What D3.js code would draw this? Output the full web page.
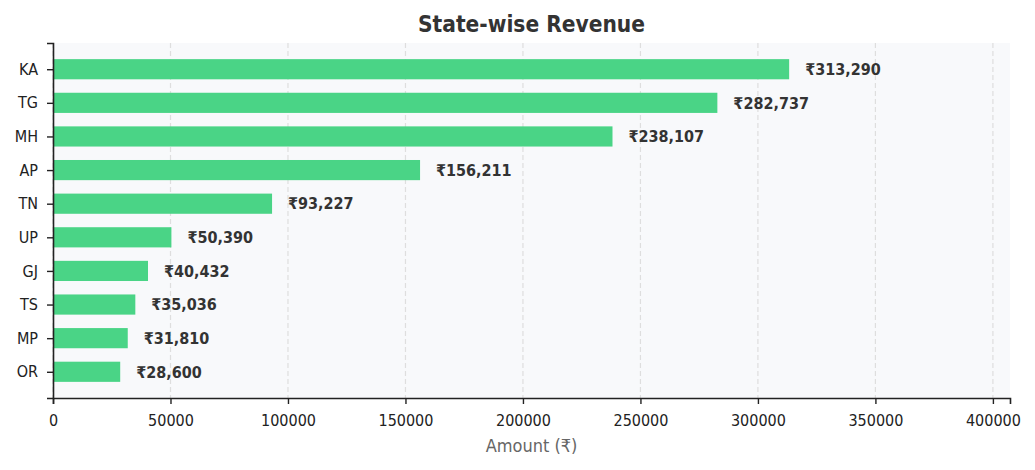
<!DOCTYPE html>
<html>
<head>
<meta charset="utf-8">
<script src="https://cdn.jsdelivr.net/npm/d3@7"></script>
<style>
  body { margin: 0; background: #fff; }
  svg text { font-family: "DejaVu Sans Condensed", "DejaVu Sans", sans-serif; font-stretch: condensed; }
</style>
</head>
<body>
<div id="chart"></div>
<script>
// Datos del gráfico
const states = ["KA", "TG", "MH", "AP", "TN", "UP", "GJ", "TS", "MP", "OR"];
const revenue = [313290, 282737, 238107, 156211, 93227, 50390, 40432, 35036, 31810, 28600];
const xTicks = [0, 50000, 100000, 150000, 200000, 250000, 300000, 350000, 400000];

const width = 1035, height = 470;
const margin = { top: 43, right: 25, bottom: 72, left: 53 };
const innerW = width - margin.left - margin.right;
const innerH = height - margin.top - margin.bottom;

const svg = d3.select("#chart").append("svg")
    .attr("width", width)
    .attr("height", height);

const g = svg.append("g").attr("transform", `translate(${margin.left},${margin.top})`);

const maxVal = d3.max(revenue);
const x = d3.scaleLinear().domain([0, maxVal * 1.3]).range([0, innerW]);
// eje y continuo, igual que barh con márgenes
const n = states.length;
const pad = 0.05 * (n - 1 + 0.6);
const y = d3.scaleLinear().domain([-0.3 - pad, n - 1 + 0.3 + pad]).range([0, innerH]);
const barH = y(0.6) - y(0);

// fondo del área
g.append("rect")
    .attr("width", innerW)
    .attr("height", innerH)
    .attr("fill", "#f8f9fb");

// grid vertical
g.selectAll(".grid").data(xTicks).enter().append("line")
    .attr("x1", d => x(d)).attr("x2", d => x(d))
    .attr("y1", 0).attr("y2", innerH)
    .attr("stroke", "#dedede")
    .attr("stroke-width", 1.2)
    .attr("stroke-dasharray", "5,3");

// barras
g.selectAll(".bar").data(states).enter().append("rect")
    .attr("x", 0)
    .attr("y", (d, i) => y(i) - barH / 2)
    .attr("width", (d, i) => x(revenue[i]))
    .attr("height", barH)
    .attr("fill", "#4ad486");

// etiquetas de valor
g.selectAll(".val").data(states).enter().append("text")
    .attr("x", (d, i) => x(revenue[i]) + 16)
    .attr("y", (d, i) => y(i))
    .attr("dy", "0.36em")
    .style("font-size", "16px")
    .style("font-weight", "bold")
    .style("fill", "#333")
    .text((d, i) => "₹" + d3.format(",")(revenue[i]));

// eje x
const xAxis = g.append("g")
    .attr("transform", `translate(0,${innerH})`)
    .call(d3.axisBottom(x).tickValues(xTicks).tickFormat(d3.format("d")).tickSize(6).tickPadding(11));
xAxis.select(".domain").attr("stroke", "#222").attr("stroke-width", 1.6);
xAxis.selectAll(".tick line").attr("stroke", "#222").attr("stroke-width", 1.4);
xAxis.selectAll("text").style("font-size", "16px").style("fill", "#222");

// eje y
const yAxis = g.append("g")
    .call(d3.axisLeft(y).tickValues(d3.range(n)).tickFormat(i => states[i]).tickSize(6).tickPadding(9));
yAxis.select(".domain").attr("stroke", "#222").attr("stroke-width", 1.6);
yAxis.selectAll(".tick line").attr("stroke", "#222").attr("stroke-width", 1.4);
yAxis.selectAll("text").style("font-size", "16px").style("fill", "#222");
xAxis.attr("font-family", null);
yAxis.attr("font-family", null);

// título
svg.append("text")
    .attr("x", margin.left + innerW / 2)
    .attr("y", 32)
    .attr("text-anchor", "middle")
    .style("font-size", "22.5px")
    .style("font-weight", "bold")
    .style("fill", "#333")
    .text("State-wise Revenue");

// etiqueta eje x
svg.append("text")
    .attr("x", margin.left + innerW / 2)
    .attr("y", 452)
    .attr("text-anchor", "middle")
    .style("font-size", "18px")
    .style("fill", "#666")
    .text("Amount (₹)");
</script>
</body>
</html>
